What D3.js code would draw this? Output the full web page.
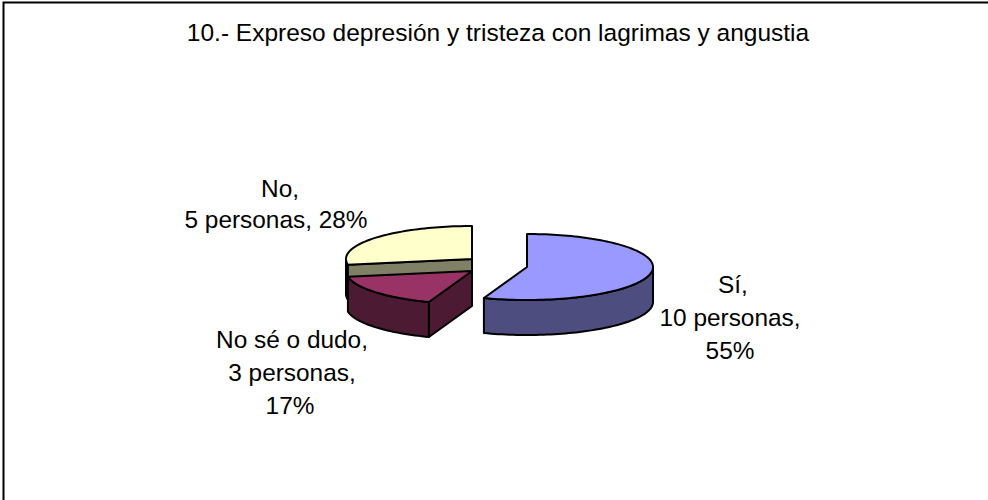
<!DOCTYPE html>
<html><head><meta charset="utf-8">
<script src="https://cdn.jsdelivr.net/npm/d3@7"></script>
<style>html,body{margin:0;padding:0;background:#fff}svg{display:block}text{font-family:"Liberation Sans",Arial,sans-serif;fill:#000}</style>
</head><body><svg id="c" width="988" height="500"></svg>
<script>
const title = "10.- Expreso depresión y tristeza con lagrimas y angustia";
const categories = ["Sí", "No sé o dudo", "No"];
const persons = [10, 3, 5];
const percents = ["55%", "17%", "28%"];
const topColors = ["#9999FF", "#993366", "#FFFFCC"];
const wallColors = ["#4D4D80", "#4D1A33", "#808066"];
const labelLines = [["Sí,", "10 personas,", "55%"], ["No sé o dudo,", "3 personas,", "17%"], ["No,", "5 personas, 28%"]];

const svg = d3.select("#c");
svg.append("rect").attr("x", 3.5).attr("y", 2.5).attr("width", 1100).attr("height", 1100)
  .attr("fill", "#fff").attr("stroke", "#000").attr("stroke-width", 2);
const fs = 24.4;
svg.append("text").attr("x", 498).attr("y", 41).attr("text-anchor", "middle").attr("font-size", 24.5).text(title);

const rx = 126, ry = 33, depth = 35;
const centers = [[527, 267], [472, 271], [472, 259]];
const arcs = d3.pie().sort(null).value(d => d)(persons);
const pt = (c, a, dz = 0) => [c[0] + rx * Math.sin(a), c[1] - ry * Math.cos(a) + dz];
const line = d3.line();
const sweep = (c, a0, a1, dz) => {
  const n = Math.max(2, Math.ceil((a1 - a0) / 0.03));
  return d3.range(n + 1).map(i => pt(c, a0 + (a1 - a0) * i / n, dz));
};
const style = (s, fill) => s.attr("fill", fill).attr("stroke", "#000").attr("stroke-width", 2).attr("stroke-linejoin", "round");
const poly = (pts, fill) => style(svg.append("path").attr("d", line(pts) + "Z"), fill);

[2, 1, 0].forEach(i => {
  const c = centers[i], a = arcs[i], a0 = a.startAngle, a1 = a.endAngle;
  const apex = [c[0], c[1]], apexD = [c[0], c[1] + depth];
  const f0 = Math.max(a0, Math.PI / 2), f1 = Math.min(a1, 3 * Math.PI / 2);
  if (f1 > f0) poly([...sweep(c, f0, f1, 0), ...sweep(c, f0, f1, depth).reverse()], wallColors[i]);
  if (i > 0) poly([pt(c, a0), apex, apexD, pt(c, a0, depth)], wallColors[i]);
  poly([apex, ...sweep(c, a0, a1, 0)], topColors[i]);
});

const labelX = [[733, 730, 730], [292, 292, 290], [280, 276]];
const labelY = [[293, 326, 359], [348, 381, 414], [197, 228]];
labelLines.forEach((ls, i) => {
  const t = svg.append("text").attr("text-anchor", "middle").attr("font-size", fs);
  ls.forEach((l, j) => t.append("tspan").attr("x", labelX[i][j]).attr("y", labelY[i][j]).text(l));
});
</script></body></html>
